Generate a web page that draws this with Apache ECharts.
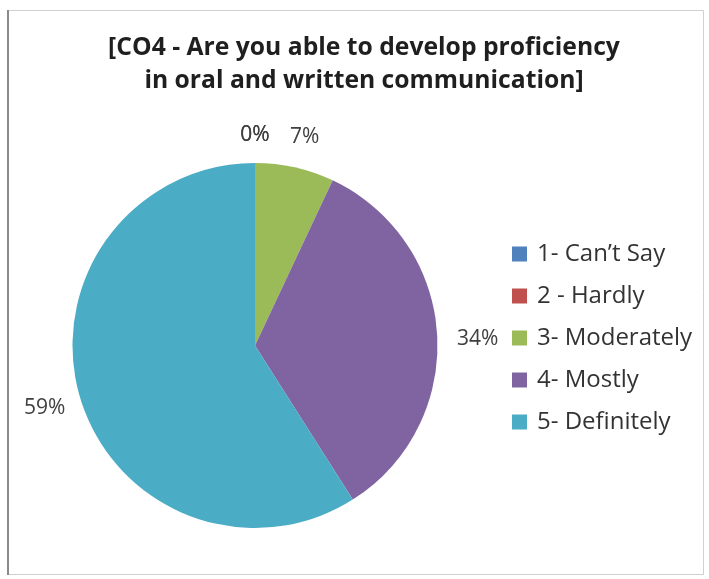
<!DOCTYPE html>
<html>
<head>
<meta charset="utf-8">
<script src="https://cdn.jsdelivr.net/npm/echarts@6/dist/echarts.min.js"></script>
<style>
html,body{margin:0;padding:0;background:#fff;}
#chart{width:709px;height:579px;}
</style>
</head>
<body>
<div id="chart"></div>
<script>
// ---- data ----
const titleText = '[CO4 - Are you able to develop proficiency\nin oral and written communication]';
const categories = ['1- Can\u2019t Say', '2 - Hardly', '3- Moderately', '4- Mostly', '5- Definitely'];
const percentValues = [0, 0, 7, 34, 59];

// ---- styles ----
const sliceColors = ['#4F81BD', '#C0504D', '#9BBB59', '#8064A2', '#4BACC6'];
const labelLineLengths = [28, 28, 31, 15, 15];
const labelDistances = [0, 0, 3, 5, 0];
const labelAligns = ['center', 'center', 'center', null, null];
const labelShiftY = [0, 0, 0, 6, 7];

const chart = echarts.init(document.getElementById('chart'), null, {renderer: 'canvas'});

const seriesData = categories.map((name, i) => ({
  name: name,
  value: percentValues[i],
  itemStyle: {color: sliceColors[i]},
  label: {distanceToLabelLine: labelDistances[i]},
  labelLine: {show: false, length: labelLineLengths[i], length2: 0}
}));

chart.setOption({
  animation: false,
  backgroundColor: '#ffffff',
  color: sliceColors,
  title: {
    text: titleText,
    left: 364,
    top: 31,
    padding: 0,
    textAlign: 'center',
    textStyle: {
      fontFamily: 'Open Sans',
      fontWeight: 'bold',
      fontSize: 24.7,
      lineHeight: 33,
      color: '#1f1f1f'
    }
  },
  legend: {
    orient: 'vertical',
    left: 507,
    top: 237,
    itemWidth: 15,
    itemHeight: 15,
    itemGap: 18,
    icon: 'rect',
    selectedMode: false,
    data: categories,
    textStyle: {
      fontFamily: 'Open Sans',
      fontSize: 24,
      color: '#333333',
      padding: [0, 0, 0, 5]
    }
  },
  graphic: [
    {type: 'rect', shape: {x: 8.5, y: 10.5, width: 695, height: 564}, style: {fill: 'none', stroke: '#d0d0d0', lineWidth: 1}, silent: true},
    {type: 'line', shape: {x1: 8, y1: 10, x2: 8, y2: 575}, style: {stroke: '#8a8a8a', lineWidth: 2}, silent: true}
  ],
  series: [{
    type: 'pie',
    center: [255, 345.5],
    radius: [0, 182.5],
    startAngle: 90,
    clockwise: true,
    avoidLabelOverlap: false,
    itemStyle: {borderWidth: 0},
    emphasis: {disabled: true},
    label: {
      show: true,
      position: 'outside',
      formatter: '{c}%',
      fontFamily: 'Open Sans',
      fontSize: 21,
      color: '#404040'
    },
    labelLine: {show: false},
    labelLayout: function (p) {
      const out = {};
      const a = labelAligns[p.dataIndex];
      if (a) out.align = a;
      if (labelShiftY[p.dataIndex]) out.dy = labelShiftY[p.dataIndex];
      return out;
    },
    data: seriesData
  }]
});
</script>
</body>
</html>
